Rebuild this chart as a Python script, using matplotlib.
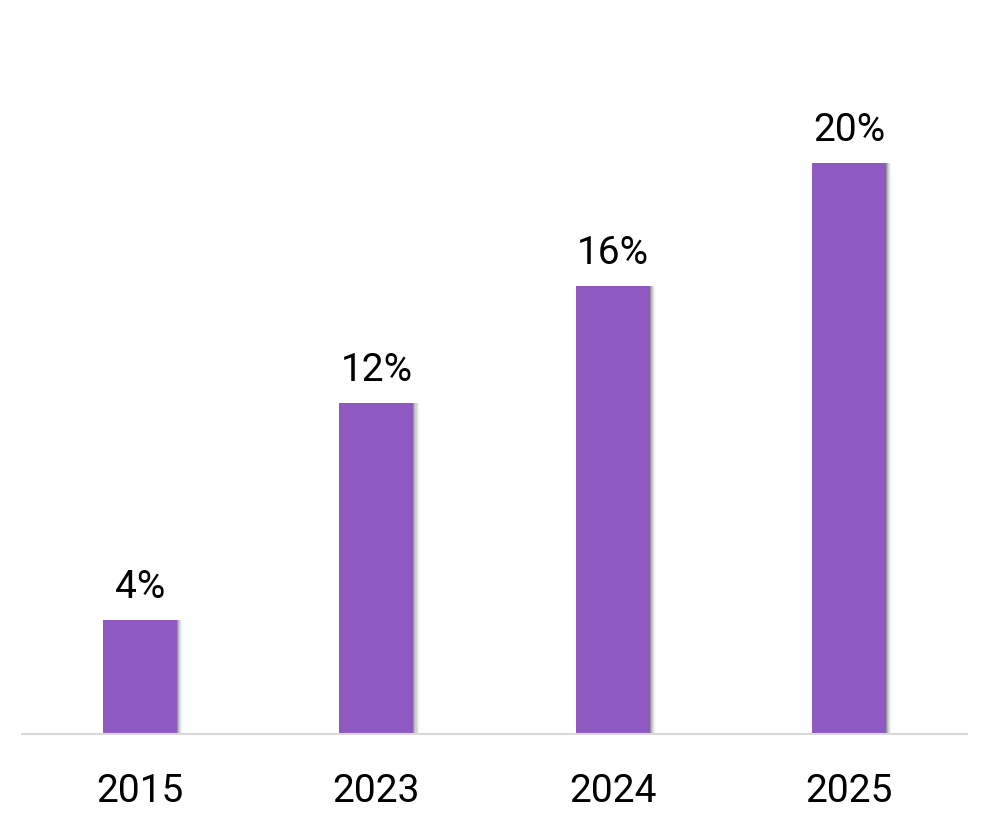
import matplotlib.pyplot as plt
import numpy as np

years = ["2015", "2023", "2024", "2025"]
shares = [4.0, 11.6, 15.7, 20.0]
share_labels = ["4%", "12%", "16%", "20%"]

plt.rcParams['font.family'] = ['Roboto', 'DejaVu Sans']

fig = plt.figure(figsize=(9.91, 8.26), dpi=100)
# axes from x=22..967 px, y=734..0 px
ax = fig.add_axes([22 / 991, (826 - 734) / 826, 945 / 991, 734 / 826])

x = np.arange(len(years))
w = 0.313
bar_color = "#8E5AC2"

# soft shadow on the right side
for i, a in enumerate([0.16, 0.12, 0.09, 0.06, 0.03, 0.015]):
    off = (i + 1) * 0.0045
    ax.bar(x + off, shares, width=w, color="black", alpha=a, zorder=1, linewidth=0)

ax.bar(x, shares, width=w, color=bar_color, zorder=3, linewidth=0)

for xi, s, lab in zip(x, shares, share_labels):
    ax.annotate(lab, (xi, s), xytext=(0, 10), textcoords="offset points",
                ha="center", va="bottom", fontsize=28, color="black")

ax.set_xlim(-0.5, 3.5)
ax.set_ylim(0, 20 * 734 / 571)
ax.set_xticks(x)
ax.set_xticklabels(years, fontsize=28)
ax.tick_params(axis="x", length=0, pad=28)
ax.set_yticks([])
for side in ["top", "right", "left"]:
    ax.spines[side].set_visible(False)
ax.spines["bottom"].set_color("#d9d9d9")
ax.spines["bottom"].set_linewidth(1.5)
ax.spines["bottom"].set_zorder(4)

fig.savefig("out.png", dpi=100, facecolor="white")
